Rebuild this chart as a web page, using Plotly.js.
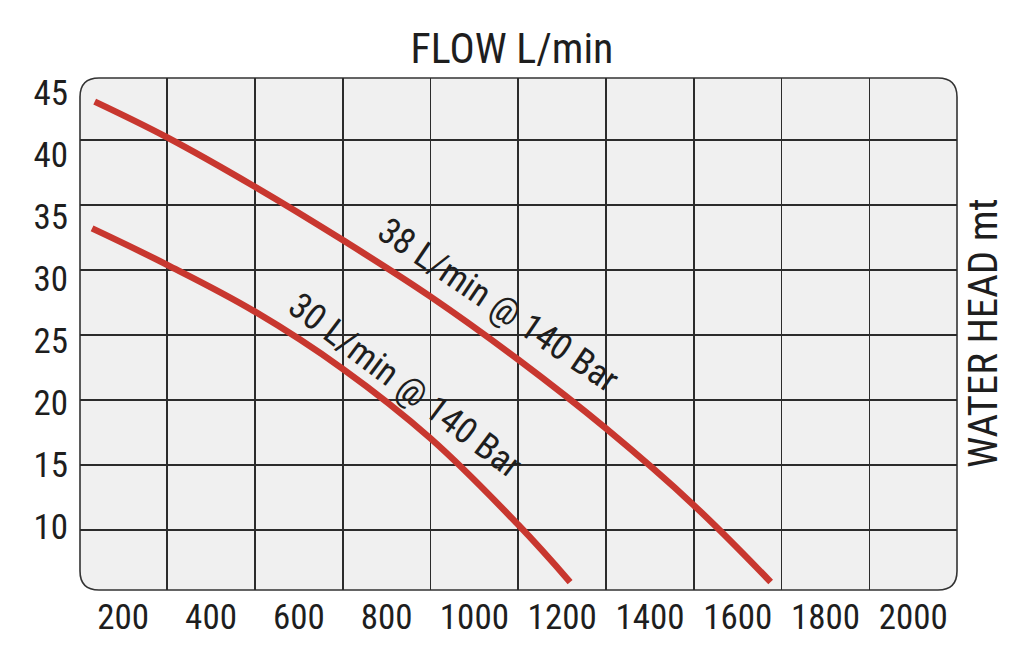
<!DOCTYPE html>
<html>
<head>
<meta charset="utf-8">
<script src="https://cdn.plot.ly/plotly-3.0.1.min.js"></script>
<style>
  html, body { margin: 0; padding: 0; background: #fff; }
  #chart { width: 1024px; height: 671px; }
  #chart text { font-stretch: condensed; }
</style>
</head>
<body>
<div id="chart"></div>
<script>
// pump curves, flow in L/min, head in metres
var flow_38 = [135, 300, 500, 700, 900, 1100, 1300, 1500, 1675];
var head_38 = [42.95, 40.2, 36.4, 32.3, 27.95, 23.1, 17.8, 11.9, 6.0];

var flow_30 = [129, 300, 500, 700, 900, 1100, 1218];
var head_30 = [33.2, 30.4, 26.8, 22.4, 17.05, 10.4, 6.0];

var flow_ticks = [200, 400, 600, 800, 1000, 1200, 1400, 1600, 1800, 2000];
var head_ticks = [10, 15, 20, 25, 30, 35, 40, 45];

var label_38 = '38 L/min @ 140 Bar';
var label_30 = '30 L/min @ 140 Bar';

var FONT = '"Roboto Condensed", "Liberation Sans Narrow", "Open Sans Condensed", "DejaVu Sans Condensed", Roboto, sans-serif';
var RED = '#c8372f';
var INK = '#1e1e1e';
var GRID = '#2b2b2b';

function roundedBox(r, w, h){
	// rounded rectangle in paper coords, corner radius r in px
	var rx = r / w, ry = r / h;
	return 'M ' + rx + ',0 L ' + (1 - rx) + ',0 Q 1,0 1,' + ry +
		' L 1,' + (1 - ry) + ' Q 1,1 ' + (1 - rx) + ',1' +
		' L ' + rx + ',1 Q 0,1 0,' + (1 - ry) +
		' L 0,' + ry + ' Q 0,0 ' + rx + ',0 Z';
}

function plotPump(){

	var data = [];

	data.push({
		x : flow_38,
		y : head_38,
		type: 'scatter',
		mode: 'lines',
		name: label_38,
		line: {color: RED, width: 6.5, shape: 'spline', smoothing: 1.1},
		hoverinfo: 'skip',
	});

	data.push({
		x : flow_30,
		y : head_30,
		type: 'scatter',
		mode: 'lines',
		name: label_30,
		line: {color: RED, width: 6.5, shape: 'spline', smoothing: 1.1},
		hoverinfo: 'skip',
	});

	// empty trace so the label axis gets drawn
	data.push({
		x : [],
		y : [],
		type: 'scatter',
		yaxis: 'y2',
		hoverinfo: 'skip',
	});

	var layout = {
		width: 1024,
		height: 671,
		title: {
			text: 'FLOW L/min',
			font: {family: FONT, size: 42, color: INK},
			x: 0.5,
			xref: 'container',
			y: 1 - 48 / 671,
			yref: 'container',
			yanchor: 'middle',
		},
		margin: {l: 80, r: 67, t: 78, b: 81, pad: 0},
		paper_bgcolor: '#ffffff',
		plot_bgcolor: 'rgba(0,0,0,0)',
		showlegend: false,
		xaxis: {
			range: [101.5, 2099.5],
			tickmode: 'array',
			tickvals: flow_ticks,
			ticktext: flow_ticks.map(String),
			ticks: '',
			ticklabelstandoff: 3,
			tickfont: {family: FONT, size: 35, color: INK},
			showgrid: false,
			zeroline: false,
			showline: false,
			minor: {
				tickmode: 'linear',
				tick0: 100,
				dtick: 200,
				showgrid: true,
				gridcolor: GRID,
				gridwidth: 1.6,
				ticks: '',
			},
		},
		yaxis: {
			range: [5.385, 44.77],
			tick0: 0,
			dtick: 5,
			showticklabels: false,
			ticks: '',
			showgrid: true,
			gridcolor: GRID,
			gridwidth: 1.6,
			zeroline: false,
			showline: false,
		},
		yaxis2: {
			overlaying: 'y',
			side: 'left',
			range: [4.92, 46.21],
			tickmode: 'array',
			tickvals: head_ticks,
			ticktext: head_ticks.map(String),
			ticks: '',
			ticklabelstandoff: 11,
			tickfont: {family: FONT, size: 35, color: INK},
			showgrid: false,
			zeroline: false,
			showline: false,
		},
		shapes: [{
			type: 'path',
			xref: 'paper',
			yref: 'paper',
			path: roundedBox(19, 877, 512),
			fillcolor: '#f0f0f0',
			line: {color: '#333333', width: 1.6},
			layer: 'below',
		}],
		annotations: [
			{
				text: 'WATER HEAD mt',
				xref: 'paper', yref: 'paper',
				x: 1.0296, y: 0.502,
				xanchor: 'center', yanchor: 'middle',
				textangle: -90,
				showarrow: false,
				font: {family: FONT, size: 41, color: INK},
			},
			{
				text: label_38,
				x: 1054, y: 27.3,
				xanchor: 'center', yanchor: 'middle',
				textangle: 34,
				showarrow: false,
				font: {family: FONT, size: 36, color: INK},
			},
			{
				text: label_30,
				x: 844, y: 21.1,
				xanchor: 'center', yanchor: 'middle',
				textangle: 37,
				showarrow: false,
				font: {family: FONT, size: 36, color: INK},
			},
		],
	};

	var config = {responsive: false, displayModeBar: false, staticPlot: true};

	Plotly.newPlot('chart', data, layout, config);
}

plotPump();
</script>
</body>
</html>
